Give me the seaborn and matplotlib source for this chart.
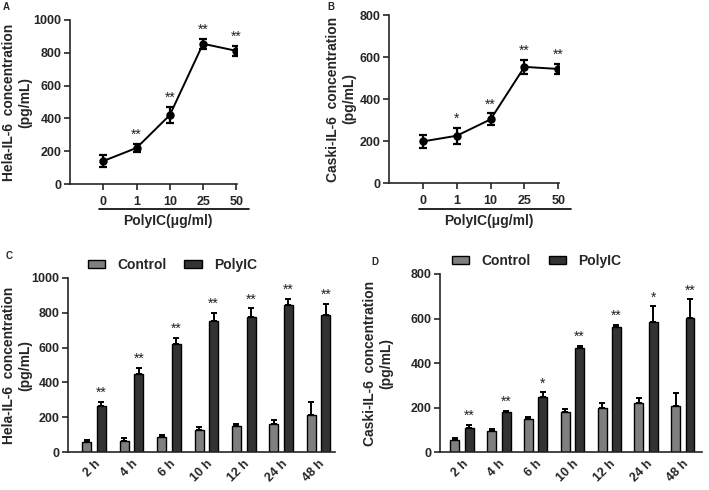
import matplotlib
matplotlib.use("Agg")
import matplotlib.pyplot as plt
import seaborn as sns
import pandas as pd
import numpy as np
from matplotlib.lines import Line2D

# ---------------- data ----------------
doses = ["0", "1", "10", "25", "50"]
hela_dose_mean = [140, 220, 420, 855, 812]
hela_dose_err = [35, 25, 50, 30, 30]
hela_dose_sig = ["", "**", "**", "**", "**"]

caski_dose_mean = [198, 225, 303, 553, 543]
caski_dose_err = [32, 38, 28, 32, 25]
caski_dose_sig = ["", "*", "**", "**", "**"]

times = ["2 h", "4 h", "6 h", "10 h", "12 h", "24 h", "48 h"]
groups = ["Control", "PolyIC"]
hela_ctrl = [55, 65, 85, 125, 148, 162, 215]
hela_ctrl_err = [15, 15, 15, 20, 15, 22, 75]
hela_poly = [265, 447, 620, 752, 777, 843, 787]
hela_poly_err = [25, 37, 37, 48, 48, 37, 62]
hela_time_sig = ["**", "**", "**", "**", "**", "**", "**"]

caski_ctrl = [52, 95, 148, 180, 198, 222, 205]
caski_ctrl_err = [10, 8, 8, 15, 22, 20, 62]
caski_poly = [108, 178, 248, 467, 560, 586, 603]
caski_poly_err = [12, 8, 20, 10, 10, 68, 83]
caski_time_sig = ["**", "**", "*", "**", "**", "*", "**"]

palette = {"Control": "#7f7f7f", "PolyIC": "#333333"}

# ---------------- style ----------------
sns.set_theme(style="ticks")
plt.rcParams["font.family"] = ["Liberation Sans", "DejaVu Sans"]
plt.rcParams["font.weight"] = "bold"
plt.rcParams["axes.labelweight"] = "bold"
plt.rcParams["axes.linewidth"] = 1.2

W, H = 709, 490
fig = plt.figure(figsize=(W / 100, H / 100), dpi=100)


def px_axes(left, right, top, bottom):
    return fig.add_axes([left / W, 1 - bottom / H, (right - left) / W, (bottom - top) / H])


def ylabel(text, cx, cy):
    fig.text(cx / W, 1 - cy / H, text, rotation=90, ha="center", va="center",
             fontsize=10, fontweight="bold", linespacing=1.25, multialignment="center")


def style_axes(ax):
    sns.despine(ax=ax)
    ax.tick_params(axis="y", direction="out", length=4, width=1.2, labelsize=9, pad=2)
    for t in ax.get_yticklabels():
        t.set_fontweight("bold")


def add_stars(ax, xs, tops, sigs):
    for x, t, s in zip(xs, tops, sigs):
        if s:
            ax.annotate(s, (x, t), xytext=(0, 1.5), textcoords="offset points",
                        ha="center", va="bottom", fontsize=10, fontweight="normal",
                        color="#222222")


def dose_panel(ax, means, errs, sigs, ymax, step):
    df = pd.DataFrame({"dose": doses, "value": means})
    sns.pointplot(data=df, x="dose", y="value", color="black", errorbar=None,
                  markers="o", markersize=5, linewidth=1.4, ax=ax)
    xs = np.arange(len(doses))
    ax.errorbar(xs, means, yerr=errs, fmt="none", ecolor="black",
                elinewidth=1.6, capsize=3, capthick=1.6)
    add_stars(ax, xs, np.array(means) + np.array(errs), sigs)
    ax.set_xlim(-1, 4.02)
    ax.set_ylim(0, ymax)
    ax.set_yticks(np.arange(0, ymax + 1, step))
    ax.set_xlabel("")
    ax.set_ylabel("")
    style_axes(ax)
    ax.tick_params(axis="x", direction="out", length=4, width=1.2, labelsize=9, pad=4.5)
    for t in ax.get_xticklabels():
        t.set_fontweight("bold")
    ax.add_line(Line2D([0.175, 1.07], [-0.152, -0.152], transform=ax.transAxes,
                       color="black", lw=1.2, clip_on=False))
    ax.text(0.585, -0.226, "PolyIC(μg/ml)", transform=ax.transAxes, ha="center",
            va="center", fontsize=10, fontweight="bold")


def time_panel(ax, ctrl, ctrl_err, poly, poly_err, sigs, ymax, step, xlim, leg_x):
    df = pd.DataFrame({
        "time": times * 2,
        "group": ["Control"] * len(times) + ["PolyIC"] * len(times),
        "value": list(ctrl) + list(poly),
    })
    sns.barplot(data=df, x="time", y="value", hue="group", hue_order=groups,
                palette=palette, errorbar=None, width=0.78, gap=0.38,
                edgecolor="black", linewidth=1.0, ax=ax)
    errs = [ctrl_err, poly_err]
    bar_conts = list(ax.containers)
    poly_x, poly_top = [], []
    for ci, cont in enumerate(bar_conts):
        xs = [b.get_x() + b.get_width() / 2 for b in cont]
        hs = [b.get_height() for b in cont]
        ax.errorbar(xs, hs, yerr=[np.zeros(len(hs)), errs[ci]], fmt="none",
                    ecolor="black", elinewidth=1.4, capsize=2.5, capthick=1.4)
        if ci == 1:
            poly_x = xs
            poly_top = np.array(hs) + np.array(errs[ci])
    add_stars(ax, poly_x, poly_top, sigs)
    ax.set_xlim(*xlim)
    ax.set_ylim(0, ymax)
    ax.set_yticks(np.arange(0, ymax + 1, step))
    ax.set_xlabel("")
    ax.set_ylabel("")
    style_axes(ax)
    ax.tick_params(axis="x", length=0, labelsize=9, pad=4)
    for t in ax.get_xticklabels():
        t.set_fontweight("bold")
        t.set_rotation(45)
        t.set_ha("right")
        t.set_va("top")
        t.set_rotation_mode("anchor")
    h, l = ax.get_legend_handles_labels()
    ax.legend(h, l, loc="center left", bbox_to_anchor=(leg_x, 1.075), ncol=2,
              frameon=False, handlelength=1.25, handleheight=0.5,
              handletextpad=0.85, columnspacing=1.3, borderpad=0, borderaxespad=0,
              prop={"weight": "bold", "size": 10})


# Panel A
axA = px_axes(70, 237, 20, 184)
dose_panel(axA, hela_dose_mean, hela_dose_err, hela_dose_sig, 1000, 200)
ylabel("Hela-IL-6  concentration\n(pg/mL)", 17, 102)

# Panel B
axB = px_axes(389, 559, 15, 183)
dose_panel(axB, caski_dose_mean, caski_dose_err, caski_dose_sig, 800, 200)
ylabel("Caski-IL-6  concentration\n(pg/mL)", 341, 99)

# Panel C
axC = px_axes(68, 335, 278, 452)
time_panel(axC, hela_ctrl, hela_ctrl_err, hela_poly, hela_poly_err, hela_time_sig,
           1000, 200, (-0.70, 6.44), 0.075)
ylabel("Hela-IL-6  concentration\n(pg/mL)", 17, 365)

# Panel D
axD = px_axes(440, 702, 274, 452)
time_panel(axD, caski_ctrl, caski_ctrl_err, caski_poly, caski_poly_err, caski_time_sig,
           800, 200, (-0.60, 6.52), 0.046)
ylabel("Caski-IL-6  concentration\n(pg/mL)", 378, 363)

# Panel letters
for letter, x, y in [("A", 3, 2), ("B", 327, 2), ("C", 6, 251), ("D", 371, 257)]:
    fig.text(x / W, 1 - y / H, letter, ha="left", va="top", fontsize=7, fontweight="bold")

fig.savefig("out.png", dpi=100)
